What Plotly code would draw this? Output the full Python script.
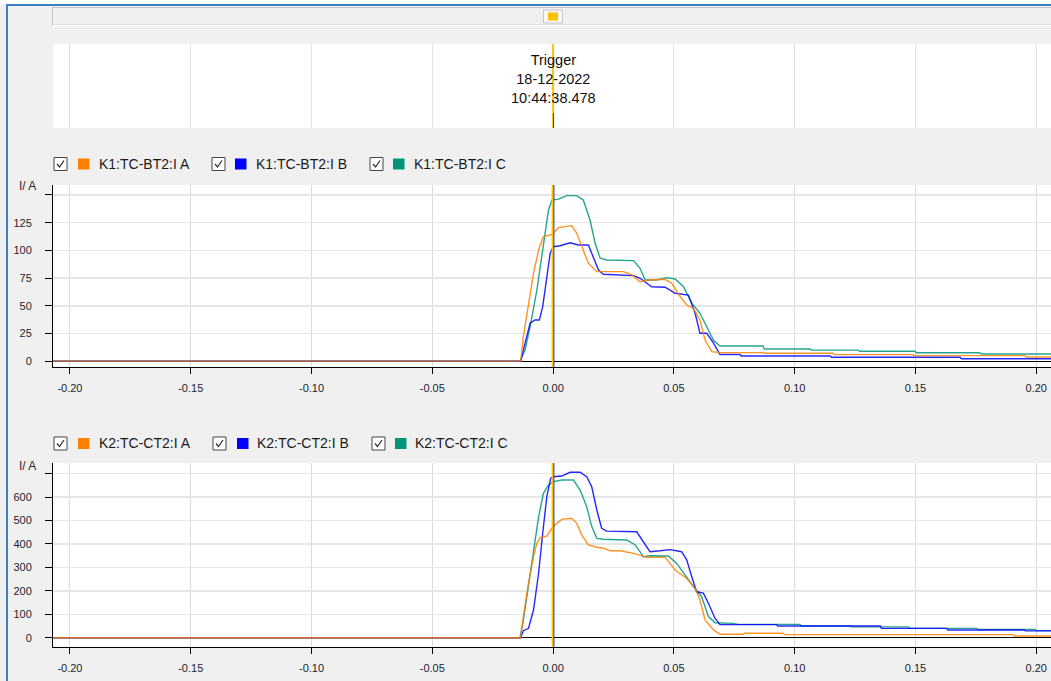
import plotly.graph_objects as go

W, H = 1051, 681

# ---------------- data (time in s, current in A) ----------------
t_k1_a = [-0.207, -0.0134, -0.0123, -0.0102, -0.0081, -0.0060, -0.0040, -0.0012, 0.0001, 0.0022, 0.0077, 0.0098,
          0.0119, 0.0146, 0.0181, 0.0291, 0.0326, 0.0360, 0.0394, 0.0464, 0.0491, 0.0526, 0.0553, 0.0581, 0.0608,
          0.0629, 0.0657, 0.0691, 0.0869, 0.0874, 0.1159, 0.1164, 0.1490, 0.1495, 0.1954, 0.1959, 0.207]
i_k1_a = [0, 0, 22.1, 49.2, 79.3, 100.4, 112.4, 113.9, 115.4, 120.5, 122.3, 115.4, 103.3, 88.4, 80.8, 80.8, 77.8,
          71.7, 73.3, 73.9, 70.3, 58.2, 50.7, 47.7, 37.2, 19.1, 8.6, 7.7, 7.7, 7.1, 7.1, 5.9, 5.9, 5.0, 5.0, 3.8, 3.8]

t_k1_b = [-0.207, -0.0134, -0.0116, -0.0095, -0.0075, -0.0057, -0.0043, -0.0026, -0.0012, 0.0001, 0.0029, 0.0070,
          0.0105, 0.0146, 0.0167, 0.0188, 0.0208, 0.0333, 0.0360, 0.0408, 0.0464, 0.0505, 0.0560, 0.0588, 0.0608,
          0.0636, 0.0664, 0.0691, 0.0774, 0.0779, 0.1147, 0.1152, 0.1685, 0.1690, 0.207]
i_k1_b = [0, 0, 16.2, 34.2, 37.2, 37.2, 49.2, 73.3, 97.4, 103.3, 104.2, 106.9, 104.9, 104.9, 94.3, 82.3, 78.4, 77.2,
          74.8, 67.2, 66.7, 61.3, 59.7, 43.2, 25.2, 25.2, 16.2, 6.0, 6.0, 4.7, 4.7, 3.5, 3.5, 2.2, 2.2]

t_k1_c = [-0.207, -0.0137, -0.0116, -0.0095, -0.0067, -0.0040, -0.0019, -0.0005, 0.0022, 0.0057, 0.0098, 0.0125,
          0.0153, 0.0174, 0.0195, 0.0222, 0.0333, 0.0360, 0.0381, 0.0429, 0.0470, 0.0505, 0.0540, 0.0574, 0.0608,
          0.0636, 0.0664, 0.0691, 0.0869, 0.0874, 0.1064, 0.1069, 0.1263, 0.1268, 0.1498, 0.1503, 0.1767, 0.1772,
          0.207]
i_k1_c = [0, 0, 10.1, 31.1, 64.3, 103.3, 136.5, 145.4, 146.3, 149.4, 149.4, 145.4, 127.4, 106.4, 92.9, 91.3, 90.7,
          83.8, 73.3, 73.3, 75.4, 74.2, 67.2, 52.3, 43.2, 31.1, 18.8, 13.7, 13.7, 11.0, 11.0, 10.0, 10.0, 9.0, 9.0,
          7.6, 7.6, 6.5, 6.5]

t_k2_a = [-0.207, -0.0134, -0.0123, -0.0102, -0.0081, -0.0067, -0.0054, -0.0026, -0.0005, 0.0015, 0.0036, 0.0077,
          0.0098, 0.0119, 0.0146, 0.0181, 0.0208, 0.0236, 0.0277, 0.0333, 0.0388, 0.0464, 0.0505, 0.0553, 0.0588,
          0.0608, 0.0629, 0.0664, 0.0691, 0.0787, 0.0792, 0.0953, 0.0958, 0.1905, 0.1910, 0.207]
i_k2_a = [0, 0, 90, 232, 346, 403, 427, 434, 467, 488, 505, 510, 488, 438, 396, 386, 382, 371, 371, 360, 343, 343,
          289, 253, 211, 161, 76, 33, 15, 15, 19, 19, 13, 13, 7, 7]

t_k2_b = [-0.207, -0.0134, -0.0123, -0.0102, -0.0081, -0.0060, -0.0043, -0.0026, -0.0010, 0.0001, 0.0036, 0.0070,
          0.0112, 0.0139, 0.0160, 0.0181, 0.0201, 0.0222, 0.0346, 0.0374, 0.0401, 0.0443, 0.0484, 0.0532, 0.0553,
          0.0574, 0.0594, 0.0622, 0.0643, 0.0670, 0.0691, 0.0925, 0.0930, 0.1354, 0.1359, 0.1629, 0.1634, 0.1950,
          0.1955, 0.207]
i_k2_b = [0, 0, 30, 40, 118, 275, 446, 602, 680, 687, 690, 706, 706, 687, 644, 545, 467, 455, 452, 410, 367, 371,
          376, 367, 332, 260, 196, 190, 147, 83, 56, 56, 50, 50, 40, 40, 33, 33, 29, 29]

t_k2_c = [-0.207, -0.0137, -0.0123, -0.0102, -0.0081, -0.0060, -0.0040, -0.0019, 0.0001, 0.0036, 0.0084, 0.0112,
          0.0139, 0.0160, 0.0181, 0.0208, 0.0305, 0.0340, 0.0374, 0.0401, 0.0477, 0.0512, 0.0546, 0.0581, 0.0615,
          0.0643, 0.0670, 0.0746, 0.0766, 0.1022, 0.1027, 0.1230, 0.1235, 0.1470, 0.1475, 0.1754, 0.1759, 0.1995,
          0.2000, 0.207]
i_k2_c = [0, 0, 75, 218, 374, 516, 616, 652, 666, 673, 673, 630, 559, 474, 424, 420, 417, 396, 346, 350, 349, 317,
          268, 218, 175, 90, 64, 61, 57, 57, 50, 50, 46, 46, 40, 40, 35, 35, 30, 30]

names_k1 = ["K1:TC-BT2:I A", "K1:TC-BT2:I B", "K1:TC-BT2:I C"]
names_k2 = ["K2:TC-CT2:I A", "K2:TC-CT2:I B", "K2:TC-CT2:I C"]

x_ticks = [-0.20, -0.15, -0.10, -0.05, 0.00, 0.05, 0.10, 0.15, 0.20]
x_tick_text = ["-0.20", "-0.15", "-0.10", "-0.05", "0.00", "0.05", "0.10", "0.15", "0.20"]
y1_ticks = [0, 25, 50, 75, 100, 125, 150]
y1_tick_text = ["0", "25", "50", "75", "100", "125", ""]
y2_ticks = [0, 100, 200, 300, 400, 500, 600, 700]
y2_tick_text = ["0", "100", "200", "300", "400", "500", "600", ""]

trigger_text = ["Trigger", "18-12-2022", "10:44:38.478"]

COL_A = "#FF8000"
COL_B = "#0000FF"
COL_C = "#00957A"
GOLD = "#FFC000"
FONT = "Liberation Sans, Arial, sans-serif"


def px(x):
    return x / W


def py(y):
    return 1 - y / H


fig = go.Figure()

# order: C, B, A (A drawn on top)
for (tt, ii, col, nm, xa, ya) in [
    (t_k1_c, i_k1_c, COL_C, names_k1[2], "x", "y"),
    (t_k1_b, i_k1_b, COL_B, names_k1[1], "x", "y"),
    (t_k1_a, i_k1_a, COL_A, names_k1[0], "x", "y"),
    (t_k2_c, i_k2_c, COL_C, names_k2[2], "x2", "y2"),
    (t_k2_b, i_k2_b, COL_B, names_k2[1], "x2", "y2"),
    (t_k2_a, i_k2_a, COL_A, names_k2[0], "x2", "y2"),
]:
    fig.add_trace(go.Scatter(x=tt, y=ii, mode="lines", name=nm, xaxis=xa, yaxis=ya,
                             line=dict(color=col, width=1.4), opacity=0.85, hoverinfo="skip"))

# empty trace for trigger panel
fig.add_trace(go.Scatter(x=[0], y=[-10], mode="markers", xaxis="x3", yaxis="y3",
                         marker=dict(opacity=0), hoverinfo="skip"))

XR = [-0.2070, 0.2061]
xcommon = dict(range=XR, tickvals=x_ticks, ticktext=x_tick_text, showgrid=True, gridcolor="#dcdcdc",
               gridwidth=1, showline=True, linecolor="black", linewidth=1, ticks="outside", ticklen=6,
               tickcolor="black", zeroline=False, tickfont=dict(size=11, color="#1c2430", family=FONT),
               domain=[53 / W, 1], fixedrange=True, ticklabelstandoff=5)
ycommon = dict(showgrid=True, gridcolor="#e6e6e6", gridwidth=1.5, showline=True, linecolor="black", linewidth=1,
               ticks="outside", ticklen=7, tickcolor="black", zeroline=True, zerolinecolor="black",
               zerolinewidth=1, tickfont=dict(size=11, color="#1c2430", family=FONT), fixedrange=True,
               ticklabelstandoff=11)

fig.update_layout(
    width=W, height=H, autosize=False,
    margin=dict(l=0, r=0, t=0, b=0, pad=0),
    paper_bgcolor="#f0f0f0", plot_bgcolor="white",
    showlegend=False, hovermode=False,
    font=dict(family=FONT, color="#222"),
    xaxis=dict(anchor="y", **xcommon),
    yaxis=dict(anchor="x", domain=[py(366.7), py(185)], range=[-5.0, 159.0], tickvals=y1_ticks,
               ticktext=y1_tick_text, **ycommon),
    xaxis2=dict(anchor="y2", **xcommon),
    yaxis2=dict(anchor="x2", domain=[py(646.7), py(463)], range=[-38.4, 745.6], tickvals=y2_ticks,
                ticktext=y2_tick_text, **ycommon),
    xaxis3=dict(anchor="y3", range=XR, tickvals=x_ticks, showgrid=True, gridcolor="#e2e2e2", gridwidth=1,
                showline=False, showticklabels=False, ticks="", zeroline=False, domain=[53 / W, 1],
                fixedrange=True),
    yaxis3=dict(anchor="x3", domain=[py(128), py(44)], range=[0, 1], visible=False, fixedrange=True),
)

shapes = []
# trigger lines in the two charts
for yr in ["y domain", "y2 domain"]:
    xr = "x" if yr == "y domain" else "x2"
    shapes.append(dict(type="line", xref=xr, yref=yr, x0=-0.0002, x1=-0.0002, y0=0, y1=1,
                       line=dict(color=GOLD, width=2)))
    shapes.append(dict(type="line", xref=xr, yref=yr, x0=0.00035, x1=0.00035, y0=0, y1=1,
                       line=dict(color="#1a3fa8", width=1)))
# trigger panel line
shapes.append(dict(type="line", xref="x3", yref="y3 domain", x0=0, x1=0, y0=0, y1=1,
                   line=dict(color=GOLD, width=2)))
shapes.append(dict(type="line", xref="paper", yref="paper", x0=px(553.5), x1=px(553.5), y0=py(128), y1=py(113),
                   line=dict(color="#1a3fa8", width=1)))

# top scrollbar
shapes.append(dict(type="rect", xref="paper", yref="paper", x0=px(52.5), x1=px(1060), y0=py(25), y1=py(7.5),
                   fillcolor="#f0f0f0", line=dict(color="#c4c4c4", width=1)))
shapes.append(dict(type="line", xref="paper", yref="paper", x0=px(53), x1=px(1051), y0=py(25.5), y1=py(25.5),
                   line=dict(color="white", width=1)))
shapes.append(dict(type="rect", xref="paper", yref="paper", x0=px(543.5), x1=px(562.5), y0=py(23), y1=py(10),
                   fillcolor="#f6f6f6", line=dict(color="#c8c8c8", width=1)))
shapes.append(dict(type="rect", xref="paper", yref="paper", x0=px(548), x1=px(558), y0=py(20.5), y1=py(12.5),
                   fillcolor=GOLD, line=dict(width=0)))

# window frame
shapes.append(dict(type="rect", xref="paper", yref="paper", x0=0, x1=1, y0=py(4), y1=1,
                   fillcolor="white", line=dict(width=0)))
shapes.append(dict(type="line", xref="paper", yref="paper", x0=px(6), x1=1, y0=py(5), y1=py(5),
                   line=dict(color="#3d7ec6", width=2)))
shapes.append(dict(type="line", xref="paper", yref="paper", x0=px(7), x1=px(7), y0=py(4), y1=0,
                   line=dict(color="#3d7ec6", width=2)))

annotations = []
# custom legends with check boxes
legend_rows = [
    (164, names_k1, [(54, 78, 97), (212, 235, 254), (370, 393, 412)]),
    (443.5, names_k2, [(54, 78, 97), (213, 237, 255), (372, 395, 413)]),
]
colors = [COL_A, COL_B, COL_C]
for (cy, names, pos) in legend_rows:
    for k, (cb, sq, tx) in enumerate(pos):
        shapes.append(dict(type="rect", xref="paper", yref="paper", x0=px(cb), x1=px(cb + 13),
                           y0=py(cy + 6.5), y1=py(cy - 6.5), fillcolor="white",
                           line=dict(color="#444", width=1)))
        path = "M {:.5f} {:.5f} L {:.5f} {:.5f} L {:.5f} {:.5f}".format(
            px(cb + 3), py(cy), px(cb + 5.5), py(cy + 3), px(cb + 10), py(cy - 3.5))
        shapes.append(dict(type="path", xref="paper", yref="paper", path=path,
                           line=dict(color="#333", width=1.3)))
        shapes.append(dict(type="rect", xref="paper", yref="paper", x0=px(sq), x1=px(sq + 11.5),
                           y0=py(cy + 5.5), y1=py(cy - 5.5), fillcolor=colors[k], line=dict(width=0)))
        annotations.append(dict(xref="paper", yref="paper", x=px(tx), y=py(cy), xanchor="left",
                                yanchor="middle", text=names[k], showarrow=False,
                                font=dict(size=14, color="#1a1a1a", family=FONT)))

# axis unit labels
for yy in [186, 466]:
    annotations.append(dict(xref="paper", yref="paper", x=px(27.5), y=py(yy), xanchor="center",
                            yanchor="middle", text="I/ A", showarrow=False,
                            font=dict(size=12, color="#2a2a2a", family=FONT)))

# trigger text
annotations.append(dict(xref="paper", yref="paper", x=px(553), y=py(79), xanchor="center", yanchor="middle",
                        text="<br>".join(trigger_text), showarrow=False, align="center",
                        font=dict(size=14.5, color="#111", family=FONT)))

fig.update_layout(shapes=shapes, annotations=annotations)

fig.write_html("out.html", config={"displayModeBar": False, "staticPlot": True})
